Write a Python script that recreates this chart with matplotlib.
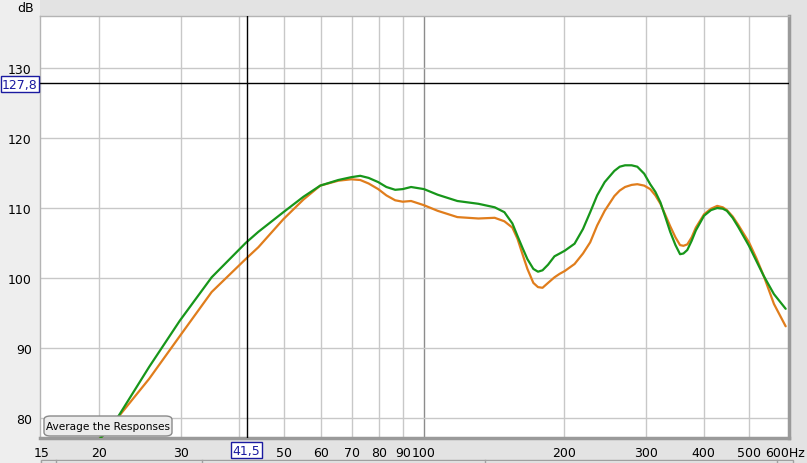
import numpy as np
import matplotlib
matplotlib.use("Agg")
import matplotlib.pyplot as plt
from matplotlib.patches import FancyBboxPatch, Rectangle

# frequency points (Hz)
freqs = [19.5, 20.3, 22.0, 25.6, 29.8, 34.9, 41.3, 44.0, 49.8, 55.0, 59.8, 65.4,
         69.7, 72.9, 76.0, 79.7, 83.0, 86.7, 90.0, 93.8, 100, 107, 118, 131, 142, 149, 155, 159,
         163, 167, 172, 176, 180, 185, 191, 196, 201, 211, 220, 228, 236, 245, 257, 264, 271, 280, 288,
         298, 307, 315, 323, 331, 339, 348, 356, 362, 369, 377, 385, 401, 415, 428, 440, 449, 462,
         475, 501, 520, 539, 567, 601]

green = [76.3, 77.4, 80.3, 87.3, 93.9, 100.1, 105.0, 106.6, 109.4, 111.6, 113.2, 114.0,
         114.4, 114.6, 114.3, 113.7, 113.0, 112.6, 112.7, 113.0, 112.7, 111.9, 111.0, 110.6, 110.1, 109.4, 107.8, 106.0,
         104.3, 102.7, 101.3, 100.9, 101.1, 101.9, 103.1, 103.5, 103.9, 104.9, 107.0, 109.4, 111.8, 113.7, 115.3, 115.9, 116.1, 116.1, 115.9,
         114.9, 113.4, 112.3, 110.8, 108.7, 106.6, 104.7, 103.4, 103.5, 104.0, 105.3, 106.8, 108.9, 109.7, 110.0, 109.9, 109.6, 108.6,
         107.3, 104.6, 102.4, 100.3, 97.7, 95.6]

orange = [76.3, 77.4, 80.2, 85.6, 91.7, 98.0, 102.7, 104.4, 108.4, 111.2, 113.2, 113.9,
          114.1, 114.0, 113.5, 112.7, 111.8, 111.1, 110.9, 111.0, 110.4, 109.6, 108.7, 108.5, 108.6, 108.1, 107.2, 105.6,
          103.4, 101.3, 99.3, 98.7, 98.6, 99.3, 100.1, 100.6, 101.0, 102.0, 103.5, 105.1, 107.5, 109.6, 111.7, 112.5, 113.0, 113.3, 113.4,
          113.2, 112.7, 111.8, 110.6, 109.0, 107.4, 105.8, 104.7, 104.6, 104.8, 105.8, 107.2, 109.1, 109.9, 110.3, 110.1, 109.7, 108.8,
          107.6, 105.1, 102.8, 100.3, 96.3, 93.1]

xtick_vals = [15, 20, 30, 50, 60, 70, 80, 90, 100, 200, 300, 400, 500, 600]
xtick_labels = ["15", "20", "30", "50", "60", "70", "80", "90", "100",
                "200", "300", "400", "500", "600Hz"]
xgrid_vals = [20, 30, 40, 50, 60, 70, 80, 90, 200, 300, 400, 500]
ytick_vals = [80, 90, 100, 110, 120, 130]

cursor_f = 41.5
cursor_db = 127.8

W, H = 807, 464
fig = plt.figure(figsize=(W / 100, H / 100), dpi=100)
fig.patch.set_facecolor("#e3e3e3")

# light strip on the left like the window gradient
fig.add_artist(Rectangle((0, 0), 40 / W, 1, transform=fig.transFigure,
                         facecolor="#eeeeee", edgecolor="none", zorder=0))

ax = fig.add_axes([40 / W, (H - 439) / H, (789 - 40) / W, (439 - 17) / H])
ax.set_facecolor("white")
ax.set_xscale("log")
ax.set_xlim(14.9, 611)
ax.set_ylim(80 - 20 / 7, 130 + 52 / 7)

for f in xgrid_vals:
    ax.axvline(f, color="#c8c8c8", lw=1, zorder=1)
ax.axvline(100, color="#8c8c8c", lw=1, zorder=1)
for v in ytick_vals:
    ax.axhline(v, color="#c8c8c8", lw=1, zorder=1)

ax.plot(freqs, orange, color="#e07d1c", lw=1.6, zorder=3,
        solid_joinstyle="round", solid_capstyle="round")
ax.plot(freqs, green, color="#17961a", lw=1.6, zorder=4,
        solid_joinstyle="round", solid_capstyle="round")

# cursor
ax.axvline(cursor_f, color="black", lw=1, zorder=5)
ax.axhline(cursor_db, color="black", lw=1, zorder=5)

ax.set_xticks(xtick_vals)
ax.set_xticklabels(xtick_labels)
ax.xaxis.set_minor_locator(matplotlib.ticker.NullLocator())
ax.set_yticks(ytick_vals)
ax.set_yticklabels([str(v) for v in ytick_vals])
ax.tick_params(axis="both", length=0, labelsize=9, colors="black")
ax.tick_params(axis="x", pad=6)
ax.tick_params(axis="y", pad=6)

for s in ["top", "left"]:
    ax.spines[s].set_color("#b4b4b4")
    ax.spines[s].set_linewidth(1)
for s in ["right", "bottom"]:
    ax.spines[s].set_color("#9a9a9a")
    ax.spines[s].set_linewidth(2.5)

fig.text(34 / W, 1 - 9 / H, "dB", ha="right", va="center", fontsize=9)

# cursor readouts
fig.text(20 / W, 1 - 85 / H, "127,8", ha="center", va="center", fontsize=9,
         color="#1a1aa0",
         bbox=dict(boxstyle="square,pad=0.12", facecolor="white", edgecolor="#1a1aa0", lw=1))
ax.text(cursor_f, -0.029, "41,5", transform=ax.get_xaxis_transform(),
        ha="center", va="center", fontsize=9, color="#1a1aa0",
        bbox=dict(boxstyle="square,pad=0.12", facecolor="white", edgecolor="#1a1aa0", lw=1))

# button
btn = FancyBboxPatch((44 / W, 1 - 437 / H), 128 / W, 20 / H, transform=fig.transFigure,
                     boxstyle="round,pad=0,rounding_size=0.008",
                     facecolor="#ececec", edgecolor="#8a8a8a", lw=1, zorder=10)
fig.add_artist(btn)
fig.text(108 / W, 1 - 427 / H, "Average the Responses", ha="center", va="center",
         fontsize=7.6, zorder=11)

# bottom panel edge
fig.add_artist(Rectangle((41 / W, 0), (793 - 41) / W, 3 / H, transform=fig.transFigure,
                         facecolor="#f0f0f0", edgecolor="#a0a0a0", lw=1))
for xs in [56, 202, 485, 777]:
    fig.add_artist(plt.Line2D([xs / W, xs / W], [0, 3 / H], transform=fig.transFigure,
                              color="#a0a0a0", lw=1))

fig.savefig("out.png", dpi=100, facecolor=fig.get_facecolor())
